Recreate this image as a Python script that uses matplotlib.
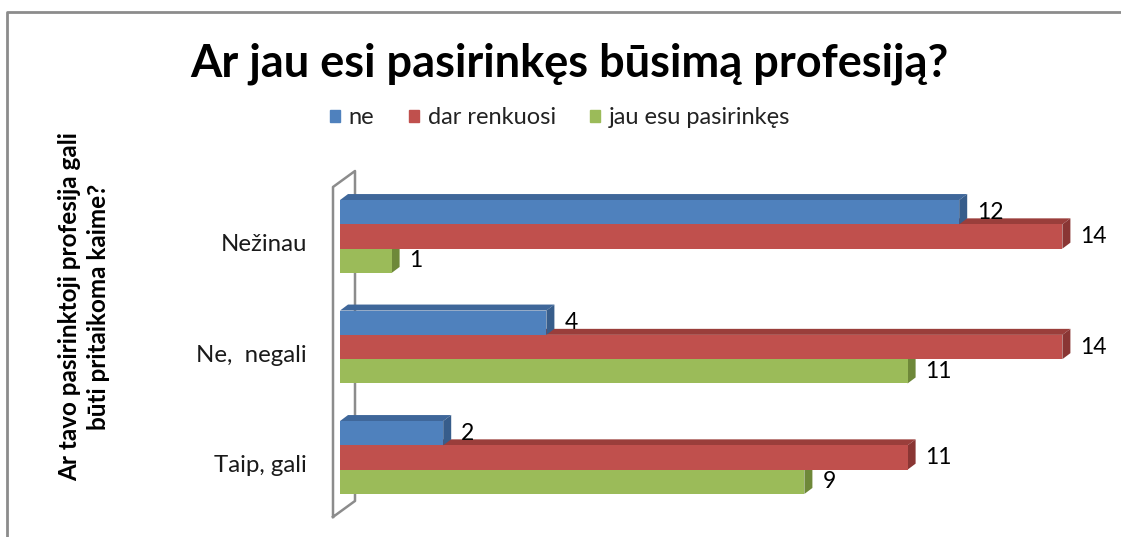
import matplotlib
matplotlib.use('Agg')
import matplotlib.pyplot as plt
from matplotlib.patches import Polygon, Patch
from matplotlib.lines import Line2D
import numpy as np

plt.rcParams['font.family'] = ['Lato', 'DejaVu Sans']

# duomenys
kategorijos = ['Nežinau', 'Ne,  negali', 'Taip, gali']
serijos = ['ne', 'dar renkuosi', 'jau esu pasirinkęs']
ne = [12, 4, 2]
dar_renkuosi = [14, 14, 11]
jau_pasirinkes = [1, 11, 9]
reiksmes = [ne, dar_renkuosi, jau_pasirinkes]

spalvos = ['#4F81BD', '#C0504D', '#9BBB59']
virsus = ['#3F679A', '#9A3E3B', '#7D9846']
sonas = ['#375D8B', '#8A3634', '#6E8839']

W, H = 1121, 537
fig = plt.figure(figsize=(W / 100, H / 100), dpi=100)

# asis: 0 ties x=340 px, 51.6 px vienetui; grupes kas 110.5 px
px_x, px_y = 51.6, 110.5
ax = fig.add_axes([340 / W, (H - 523.8) / H, 15 * px_x / W, 3.4 * px_y / H])
ax.set_xlim(0, 15)
ax.set_ylim(2.6, -0.8)
ax.axis('off')

h = 24.3 / px_y
dx, dy = 8 / px_x, 6 / px_y
poz = np.arange(len(kategorijos))

# 3D "siena" kaireje
fx = -7 / px_x
wt, wb = -0.448, 2.538
bx, by = 22 / px_x, 16 / px_y
siena = [(fx, wb), (fx, wt), (fx + bx, wt - by), (fx + bx, wb - by), (fx, wb)]
ax.add_line(Line2D([p[0] for p in siena], [p[1] for p in siena], color='#8C8C8C',
                   lw=1.8, clip_on=False, zorder=1))

# stulpeliai: piesiama nuo apatinio (zalio) iki virsutinio (melyno)
for s in [2, 1, 0]:
    yc = poz + (s - 1) * h
    for y, v in zip(yc, reiksmes[s]):
        yt, yb = y - h / 2, y + h / 2
        ax.add_patch(Polygon([(0, yt), (v, yt), (v + dx, yt - dy), (dx, yt - dy)],
                             closed=True, fc=virsus[s], ec='none', zorder=2))
        ax.add_patch(Polygon([(v, yt), (v + dx, yt - dy), (v + dx, yb - dy), (v, yb)],
                             closed=True, fc=sonas[s], ec='none', zorder=2))
    ax.barh(yc, reiksmes[s], height=h, color=spalvos[s], zorder=2)
    for y, v in zip(yc, reiksmes[s]):
        ax.annotate(str(v), (v, y), xytext=(18, 0), textcoords='offset pixels',
                    ha='left', va='center', fontsize=16.5, color='black',
                    annotation_clip=False)

# kategoriju pavadinimai
for y, k in zip(poz, kategorijos):
    ax.text(-33 / px_x, y + 0.075, k, ha='right', va='center', fontsize=17.3,
            color='#1a1a1a')

fig.text(0.5 * (190 + 948) / W, 1 - 64 / H, 'Ar jau esi pasirinkęs būsimą profesiją?',
         ha='center', va='center', fontsize=32.5, fontweight='bold')

rankenos = [Patch(color=c) for c in spalvos]
fig.legend(rankenos, serijos, loc='center', bbox_to_anchor=(560 / W, 1 - 118 / H),
           ncol=3, frameon=False, fontsize=17, handlelength=0.45, handleheight=0.45,
           handletextpad=0.35, columnspacing=1.45, labelcolor='#222222')

fig.text(84 / W, 1 - 307 / H, 'Ar tavo pasirinktoji profesija gali\nbūti pritaikoma kaime?',
         rotation=90, ha='center', va='center', multialignment='center',
         fontsize=17.5, fontweight='bold', linespacing=1.3)

# remelis
fig.add_artist(Line2D([7 / W, 7 / W, 1.0], [0, 1 - 12 / H, 1 - 12 / H],
                      transform=fig.transFigure, color='#8C8C8C', lw=2))

fig.savefig('out.png', dpi=100)
